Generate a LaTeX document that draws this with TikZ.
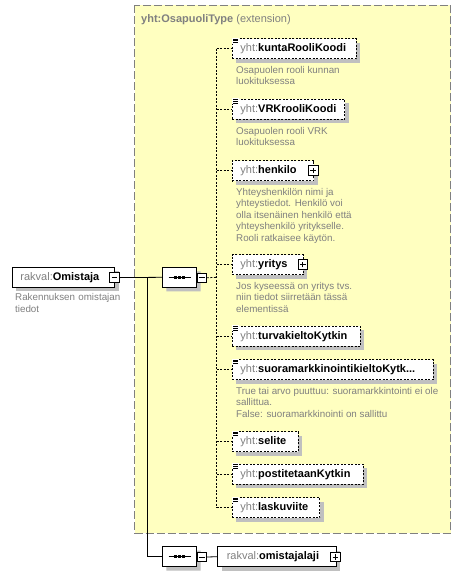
\documentclass[tikz,border=0pt]{standalone}
\usepackage{fontspec}
\setmainfont{Liberation Sans}
\usetikzlibrary{shapes.misc,shadows}
\definecolor{typefill}{RGB}{255,255,192}
\definecolor{typeborder}{RGB}{128,128,128}
\definecolor{nsgray}{RGB}{128,128,128}
\definecolor{descgray}{RGB}{128,128,128}
\definecolor{shadowgray}{RGB}{192,192,192}
\newcommand{\ns}[1]{{\mdseries\color{nsgray}#1}}
\newcommand{\EL}[2]{\makebox[\dimexpr #1pt-16.6pt\relax][l]{#2}}
\tikzset{
  elemshadow/.style={general shadow={fill=shadowgray, draw=none, shadow xshift=4pt, shadow yshift=-4pt}},
  elembox/.style={draw=black, fill=white, line width=0.9pt, minimum height=20pt,
     inner xsep=8.3pt, inner ysep=0pt, anchor=west, elemshadow,
     font=\fontsize{11}{13}\selectfont\bfseries},
  optbox/.style={elembox, dash pattern=on 2pt off 1.5pt},
  pmbox/.style={draw=black, fill=white, line width=0.8pt, minimum width=9.5pt, minimum height=9.5pt, inner sep=0pt},
  seqbox/.style={chamfered rectangle, chamfered rectangle xsep=5pt, chamfered rectangle ysep=5pt,
     draw=black, fill=white, line width=0.8pt,
     minimum width=34.4pt, minimum height=20pt, inner sep=0pt, elemshadow},
  desc/.style={anchor=north west, inner sep=0pt, align=left, text=descgray,
     font=\fontsize{9.8}{11.6}\selectfont},
  solidconn/.style={draw=black, line width=0.8pt},
  dashconn/.style={draw=black, line width=0.8pt, dash pattern=on 2pt off 1.5pt},
  iconline/.style={draw=black, line width=0.7pt}
}
\newcommand{\minussign}[1]{\draw[black, line width=0.8pt] ([xshift=-2.8pt]#1.center) -- ([xshift=2.8pt]#1.center);}
\newcommand{\plussign}[1]{\draw[black, line width=0.8pt] ([xshift=-2.8pt]#1.center) -- ([xshift=2.8pt]#1.center) ([yshift=-2.8pt]#1.center) -- ([yshift=2.8pt]#1.center);}
\newcommand{\seqdots}[1]{\draw[black, line width=0.8pt] ([xshift=-11pt]#1.center) -- ([xshift=11pt]#1.center);
  \foreach \dx in {-4,0,4} {\fill[black] ([xshift=\dx pt-1.3pt, yshift=-1.3pt]#1.center) rectangle ++(2.6pt,2.6pt);}}
\newcommand{\simpleicon}[1]{\fill[white] ([shift={(0.6,-0.6)}]#1.north west) rectangle ++(6.5,6);
  \foreach \dy in {0.8,2.4,4.0} {\draw[iconline] ([shift={(1.6,\dy)}]#1.north west) -- ++(4.6,0);}}
\begin{document}
\begin{tikzpicture}[x=1pt,y=-1pt]
\useasboundingbox (0,0) rectangle (461,576);
\fill[white] (0,0) rectangle (461,576);
% type box
\path[fill=typefill, draw=typeborder, line width=1.2pt, dash pattern=on 8pt off 3pt] (134.7,5.3) rectangle (450.7,533.3);
\node[anchor=west, inner sep=0pt, text=nsgray, font=\fontsize{11}{13}\selectfont] (title) at (141,19.3) {\textbf{yht:OsapuoliType} (extension)};

% root element
\node[elembox] (omistaja) at (11.7,277.3) {\EL{102.6}{\ns{rakval:}Omistaja}};
\node[pmbox] (omistajaM) at (114.5,277.6) {};
\minussign{omistajaM}
\node[desc, text width=110pt] (omistajaD) at (15,293.2) {Rakennuksen omistajan\\tiedot};

% sequence 1
\node[seqbox] (seq1) at (179.5,277.3) {};
\seqdots{seq1}
\node[pmbox] (seq1M) at (201.7,277.8) {};
\minussign{seq1M}

% children
\node[optbox] (kunta) at (231.7,48.7) {\EL{124.3}{\ns{yht:}kuntaRooliKoodi}};
\simpleicon{kunta}
\node[desc] (kuntaD) at (236,66) {Osapuolen rooli kunnan\\luokituksessa};

\node[optbox] (vrk) at (231.7,109.3) {\EL{112.6}{\ns{yht:}VRKrooliKoodi}};
\simpleicon{vrk}
\node[desc] (vrkD) at (236,126.7) {Osapuolen rooli VRK\\luokituksessa};

\node[optbox] (henkilo) at (231.7,170.7) {\EL{81.6}{\ns{yht:}henkilo}};
\node[pmbox] (henkiloP) at (313.2,170.5) {};
\plussign{henkiloP}
\node[desc] (henkiloD) at (236,187.7) {Yhteyshenkilön nimi ja\\yhteystiedot. Henkilö voi\\olla itsenäinen henkilö että\\yhteyshenkilö yritykselle.\\Rooli ratkaisee käytön.};

\node[optbox] (yritys) at (231.7,264.7) {\EL{71.3}{\ns{yht:}yritys}};
\node[pmbox] (yritysP) at (302.7,264.5) {};
\plussign{yritysP}
\node[desc] (yritysD) at (236,281.7) {Jos kyseessä on yritys tvs.\\niin tiedot siirretään tässä\\elementissä};

\node[optbox] (turva) at (231.7,336.3) {\EL{128.3}{\ns{yht:}turvakieltoKytkin}};
\simpleicon{turva}

\node[optbox] (suora) at (231.7,369.7) {\EL{201}{\ns{yht:}suoramarkkinointikieltoKytk...}};
\simpleicon{suora}
\node[desc] (suoraD) at (236,386.7) {True tai arvo puuttuu: suoramarkkintointi ei ole\\sallittua.\\False: suoramarkkinointi on sallittu};

\node[optbox] (selite) at (231.7,441.7) {\EL{66}{\ns{yht:}selite}};
\simpleicon{selite}

\node[optbox] (posti) at (231.7,474.3) {\EL{131}{\ns{yht:}postitetaanKytkin}};
\simpleicon{posti}

\node[optbox] (lasku) at (231.7,507.7) {\EL{87.6}{\ns{yht:}laskuviite}};
\simpleicon{lasku}

% sequence 2
\node[seqbox] (seq2) at (179.5,556.7) {};
\seqdots{seq2}
\node[pmbox] (seq2M) at (201.7,557) {};
\minussign{seq2M}

\node[elembox, inner xsep=9pt] (laji) at (217.3,556.7) {\makebox[100.7pt][l]{\ns{rakval:}omistajalaji}};
\node[pmbox] (lajiP) at (335.3,556.9) {};
\plussign{lajiP}

% connectors
\coordinate (trunk) at (147.3,277.3);
\coordinate (bus) at (216.7,277.3);
\draw[solidconn] (omistajaM.east) -- (seq1.west);
\draw[solidconn] (trunk) |- (seq2.west);
\draw[solidconn] (seq2M.east) -- (laji.west);
\draw[dashconn] (seq1M.east) -- (bus);
\draw[dashconn] (bus |- kunta.west) -- (bus |- lasku.west);
\foreach \n in {kunta,vrk,henkilo,yritys,turva,suora,selite,posti,lasku}
  {\draw[dashconn] (bus |- \n.west) -- (\n.west);}
\end{tikzpicture}
\end{document}
